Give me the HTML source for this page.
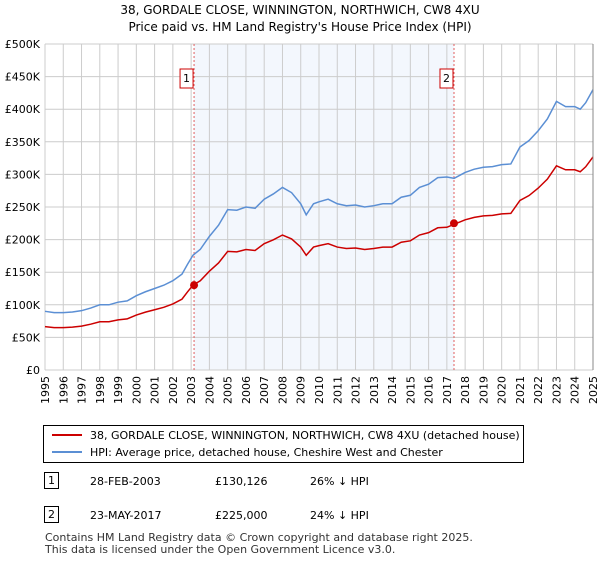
<!DOCTYPE html>
<html><head><meta charset="utf-8"><style>
body{margin:0;background:#fff;font-family:"Liberation Sans","DejaVu Sans",sans-serif;}
svg text{font-family:"DejaVu Sans","Liberation Sans",sans-serif;}
</style></head><body>
<svg width="600" height="560" xmlns="http://www.w3.org/2000/svg">
<text x="300" y="14" text-anchor="middle" font-size="12">38, GORDALE CLOSE, WINNINGTON, NORTHWICH, CW8 4XU</text>
<text x="300" y="31" text-anchor="middle" font-size="12">Price paid vs. HM Land Registry's House Price Index (HPI)</text>
<g id="plot"></g>
<g>
<rect x="43.5" y="425.5" width="480" height="37" fill="#fff" stroke="#000"/>
<line x1="52" y1="435" x2="82" y2="435" stroke="#cc0000" stroke-width="2"/>
<text x="90" y="439" font-size="11">38, GORDALE CLOSE, WINNINGTON, NORTHWICH, CW8 4XU (detached house)</text>
<line x1="52" y1="452" x2="82" y2="452" stroke="#5b8fd4" stroke-width="2"/>
<text x="90" y="456" font-size="11">HPI: Average price, detached house, Cheshire West and Chester</text>
</g>
<g font-size="11">
<rect x="44.5" y="472.5" width="14" height="16" fill="#fff" stroke="#000"/><text x="51.5" y="484" text-anchor="middle">1</text>
<text x="90" y="485">28-FEB-2003</text><text x="215" y="485">£130,126</text><text x="310" y="485">26% ↓ HPI</text>
<rect x="44.5" y="506.5" width="14" height="16" fill="#fff" stroke="#000"/><text x="51.5" y="518" text-anchor="middle">2</text>
<text x="90" y="519">23-MAY-2017</text><text x="215" y="519">£225,000</text><text x="310" y="519">24% ↓ HPI</text>
</g>
<text x="45" y="541" font-size="11" fill="#333">Contains HM Land Registry data © Crown copyright and database right 2025.</text>
<text x="45" y="553" font-size="11" fill="#333">This data is licensed under the Open Government Licence v3.0.</text>
</svg>
<script>
const hpiYears=[1995,1995.5,1996,1996.5,1997,1997.5,1998,1998.5,1999,1999.5,2000,2000.5,2001,2001.5,2002,2002.5,2002.8,2003.1,2003.5,2004,2004.5,2005,2005.5,2006,2006.5,2007,2007.5,2008,2008.5,2009,2009.3,2009.7,2010,2010.5,2011,2011.5,2012,2012.5,2013,2013.5,2014,2014.5,2015,2015.5,2016,2016.5,2017,2017.4,2018,2018.5,2019,2019.5,2020,2020.5,2021,2021.5,2022,2022.5,2023,2023.5,2024,2024.3,2024.6,2025];
const hpiValues=[90,88,88,89,91,95,100,100,104,106,114,120,125,130,137,147,162,176,185,205,222,246,245,250,248,262,270,280,272,255,238,255,258,262,255,252,253,250,252,255,255,265,268,280,285,295,296,294,303,308,311,312,315,316,342,352,367,385,412,404,404,400,410,430];
const saleYears=[2003.16,2017.39];
const salePrices=[130126,225000];
const saleLabels=["1","2"];
const yTicks=[0,50,100,150,200,250,300,350,400,450,500];
const yTickLabels=["£0","£50K","£100K","£150K","£200K","£250K","£300K","£350K","£400K","£450K","£500K"];
const xTicks=[1995,1996,1997,1998,1999,2000,2001,2002,2003,2004,2005,2006,2007,2008,2009,2010,2011,2012,2013,2014,2015,2016,2017,2018,2019,2020,2021,2022,2023,2024,2025];
const X=y=>45+(y-1995)*(548/30), Y=v=>370-v*0.652;
const NS="http://www.w3.org/2000/svg", g=document.getElementById('plot');
function mk(t,a){const e=document.createElementNS(NS,t);for(const k in a)e.setAttribute(k,a[k]);g.appendChild(e);return e;}
let sh=mk('rect',{x:X(saleYears[0]),y:Y(500),width:X(saleYears[1])-X(saleYears[0]),height:Y(0)-Y(500),fill:'#eef3fc',opacity:0.7});


xTicks.forEach(t=>{let l=mk('line',{x1:X(t),x2:X(t),y1:Y(0),y2:Y(500),stroke:'#ccc'});


let tx=mk('text',{x:0,y:0,'font-size':11,'text-anchor':'end',transform:`translate(${X(t)+4},${Y(0)+6}) rotate(-90)`});tx.textContent=t;

});
yTicks.forEach((t,i)=>{let l=mk('line',{x1:X(1995),x2:X(2025),y1:Y(t),y2:Y(t),stroke:'#ccc'});


let tx=mk('text',{x:40,y:Y(t)+4,'font-size':11,'text-anchor':'end'});tx.textContent=yTickLabels[i];

});
saleYears.forEach((s,i)=>{let l=mk('line',{x1:X(s),x2:X(s),y1:Y(0),y2:Y(500),stroke:'#e06060','stroke-dasharray':'2,2'});


let r=mk('rect',{x:X(s)-14,y:69,width:13,height:19,fill:'#fff',stroke:'#cc0000'});


let t=mk('text',{x:X(s)-7.5,y:82,'font-size':11,'text-anchor':'middle'});t.textContent=saleLabels[i];

});
const ratio=y=>{let r=salePrices[0]/1000/176;if(y>=saleYears[1])r=salePrices[1]/1000/296;return r;};
let hp=mk('polyline',{points:hpiYears.map((y,i)=>X(y)+','+Y(hpiValues[i])).join(' '),fill:'none',stroke:'#5b8fd4','stroke-width':1.5});


let rp=mk('polyline',{points:hpiYears.map((y,i)=>X(y)+','+Y(hpiValues[i]*ratio(y))).join(' '),fill:'none',stroke:'#cc0000','stroke-width':1.5});


saleYears.forEach((s,i)=>{let c=mk('circle',{cx:X(s),cy:Y(salePrices[i]/1000),r:4,fill:'#cc0000'});

});
let ax=mk('line',{x1:X(2025),x2:X(2025),y1:Y(0),y2:Y(500),stroke:'#888'});


</script>
</body></html>
